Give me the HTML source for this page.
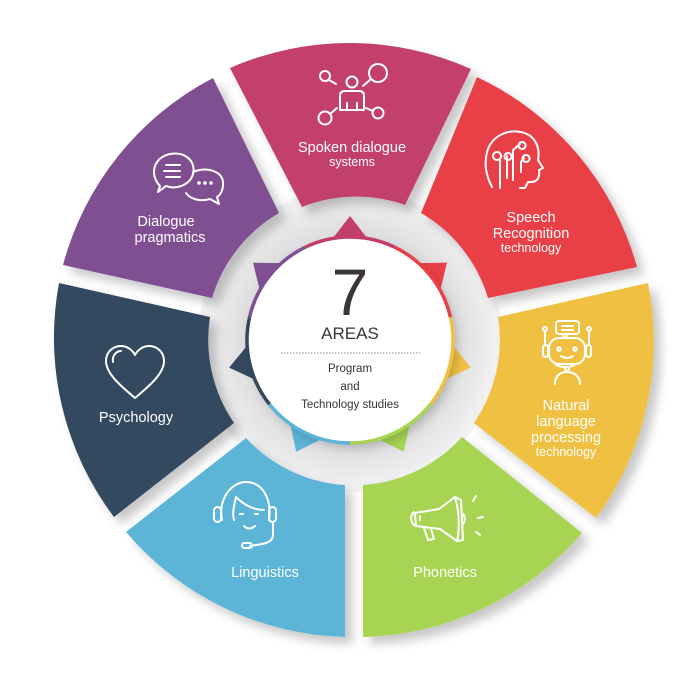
<!DOCTYPE html>
<html><head><meta charset="utf-8"><style>
html,body{margin:0;padding:0;background:#fff;}
svg{display:block;}
text{font-family:"Liberation Sans",sans-serif;}
</style></head><body>
<svg id="s" width="700" height="700" viewBox="0 0 700 700" xmlns="http://www.w3.org/2000/svg">
<defs>
<filter id="sh" x="-20%" y="-20%" width="150%" height="150%"><feDropShadow dx="7" dy="7" stdDeviation="5" flood-color="#000" flood-opacity="0.22"/></filter>
<filter id="sh2" x="-20%" y="-20%" width="150%" height="150%"><feDropShadow dx="4" dy="5" stdDeviation="5" flood-color="#000" flood-opacity="0.2"/></filter>
<radialGradient id="rg" cx="350" cy="340" r="150" gradientUnits="userSpaceOnUse"><stop offset="0.6" stop-color="#d6d6d8"/><stop offset="1" stop-color="#f2f2f3"/></radialGradient>
</defs>
<circle cx="350" cy="340" r="152" fill="url(#rg)"/>
<g filter="url(#sh)">
<path d="M230,68 A298,298 0 0 1 471,69 L405,205 A147,147 0 0 0 302,207 Z" fill="#c33f6b"/>
<path d="M477,77 A298,298 0 0 1 637,267 L488,298 A147,147 0 0 0 421,213 Z" fill="#e94046"/>
<path d="M648,283 A298,298 0 0 1 596,518 L474,423 A147,147 0 0 0 498,317 Z" fill="#efc043"/>
<path d="M582,533 A298,298 0 0 1 363,637 L363,485 A147,147 0 0 0 462,437 Z" fill="#a7d553"/>
<path d="M345,637 A298,298 0 0 1 126,532 L246,438 A147,147 0 0 0 345,485 Z" fill="#5cb4d7"/>
<path d="M114,517 A298,298 0 0 1 59,283 L210,317 A147,147 0 0 0 234,423 Z" fill="#33485e"/>
<path d="M63,265 A298,298 0 0 1 213,78 L279,213 A147,147 0 0 0 212,298 Z" fill="#804f92"/>
</g>
<g id="tri"></g>
<circle cx="350" cy="340" r="103" fill="#fff" filter="url(#sh2)"/>
<g id="ring"></g>
<text x="350" y="315" text-anchor="middle" font-size="66" fill="#3b3535">7</text>
<text x="350" y="339" text-anchor="middle" font-size="17" fill="#3b3535">AREAS</text>
<line x1="281" y1="353" x2="420" y2="353" stroke="#888" stroke-width="1" stroke-dasharray="1.5,1.5"/>
<text x="350" y="372" text-anchor="middle" font-size="11.5" fill="#333">Program</text>
<text x="350" y="390" text-anchor="middle" font-size="11.5" fill="#333">and</text>
<text x="350" y="408" text-anchor="middle" font-size="11.5" fill="#333">Technology studies</text>

<g fill="#fff" text-anchor="middle">
<text x="352" y="152" font-size="14.5">Spoken dialogue</text>
<text x="352" y="166" font-size="12.5">systems</text>
<text x="531" y="222" font-size="14.5">Speech</text>
<text x="531" y="238" font-size="14.5">Recognition</text>
<text x="531" y="252" font-size="12.5">technology</text>
<text x="166" y="226" font-size="14.5">Dialogue</text>
<text x="170" y="242" font-size="14.5">pragmatics</text>
<text x="136" y="422" font-size="14.5">Psychology</text>
<text x="566" y="410" font-size="14.5">Natural</text>
<text x="566" y="426" font-size="14.5">language</text>
<text x="566" y="442" font-size="14.5">processing</text>
<text x="566" y="456" font-size="12.5">technology</text>
<text x="265" y="577" font-size="14.5">Linguistics</text>
<text x="445" y="577" font-size="14.5">Phonetics</text>
</g>

<g fill="none" stroke="#fff" stroke-width="2" stroke-linecap="round" stroke-linejoin="round">
<circle cx="325" cy="76" r="5"/><line x1="329" y1="80" x2="336" y2="84"/>
<circle cx="378" cy="73" r="9"/><line x1="371" y1="79" x2="363" y2="86"/>
<circle cx="352" cy="82" r="5.5"/>
<path d="M340,110 V96 Q340,91 345,91 H359 Q364,91 364,96 V110 Z M347,110 V103 M357,110 V103"/>
<circle cx="325" cy="118" r="6.5"/><line x1="330" y1="114" x2="337" y2="108"/>
<circle cx="378" cy="113" r="5.5"/><line x1="373" y1="111" x2="366" y2="108"/>
<path d="M492,187 C486,175 484,165 487,152 C492,134 512,127 527,134 C537,139 540,150 538,160 L543,168 L539,170 C540,177 538,183 528,182 L525,188 L520,188"/>
<path d="M500,188 V160 M497,160 a4,4 0 1 1 0.1,0 M507,178 V156 M508,153 a3.5,3.5 0 1 0 0.1,0 M513,180 V150 L520,144 M522,142 a3.5,3.5 0 1 0 0.1,0 M521,172 V162 L524,158 M526,155 a3.5,3.5 0 1 0 0.1,0"/>
<path d="M160,186 C150,176 152,158 170,154 C186,151 196,162 193,174 C190,185 176,190 166,186 L158,192 Z"/>
<line x1="166" y1="165" x2="180" y2="165"/><line x1="164" y1="171" x2="180" y2="171"/><line x1="166" y1="177" x2="180" y2="177"/>
<path d="M193,172 C208,166 224,172 223,184 C223,192 219,196 217,197 L219,204 L210,199 C200,202 190,199 186,193"/>
<circle cx="199" cy="183" r="0.8" fill="#fff"/><circle cx="205" cy="183" r="0.8" fill="#fff"/><circle cx="211" cy="183" r="0.8" fill="#fff"/>
<path d="M135,398 C122,387 106,374 106,361 C106,352 113,346 121,346 C128,346 133,351 135,355 C137,351 142,346 149,346 C157,346 164,352 164,361 C164,374 148,387 135,398 Z"/>
<path d="M113,362 C112,356 116,351 121,351"/>
<rect x="556" y="321" width="23" height="13" rx="3"/><path d="M562,334 L565,338 L568,334"/>
<line x1="562" y1="326" x2="573" y2="326"/><line x1="562" y1="330" x2="573" y2="330"/>
<rect x="549" y="338" width="36" height="26" rx="10"/>
<circle cx="559" cy="349" r="1.8"/><circle cx="575" cy="349" r="1.8"/><path d="M561,356 Q567,360 573,356"/>
<rect x="543" y="345" width="5" height="12" rx="2.5"/><rect x="586" y="345" width="5" height="12" rx="2.5"/>
<line x1="545" y1="344" x2="545" y2="331"/><circle cx="545" cy="329" r="2"/><line x1="589" y1="344" x2="589" y2="331"/><circle cx="589" cy="329" r="2"/>
<path d="M556,365 Q567,370 576,364"/><circle cx="567" cy="369" r="2"/>
<path d="M555,384 C555,376 560,372 567,372 C574,372 580,376 580,384"/>
<path d="M222,520 C218,498 232,482 246,482 C262,482 272,498 269,520"/>
<path d="M236,497 C234,506 232,513 234,520 M236,497 C244,505 254,510 264,510"/>
<rect x="214" y="507" width="7" height="15" rx="3.5"/><rect x="269" y="507" width="7" height="15" rx="3.5"/>
<line x1="240" y1="514" x2="243" y2="514"/><line x1="255" y1="514" x2="258" y2="514"/>
<path d="M244,526 Q249,531 255,526"/>
<path d="M273,522 V535 Q273,542 262,544 L250,546"/><rect x="242" y="543" width="10" height="5" rx="2.5"/>
<path d="M415,513 L439,509 L455,497 L461,500 L463,540 L457,541 L440,529 L416,526 Z"/>
<path d="M455,497 C459,510 460,528 457,541"/>
<path d="M414,512 C410,515 410,524 416,526"/>
<path d="M424,528 L428,540 L434,539 L431,529"/>
<line x1="420" y1="516" x2="420" y2="520"/>
<path d="M463,514 a4,6 0 0 1 0,10"/>
<line x1="473" y1="501" x2="476" y2="496"/><line x1="478" y1="518" x2="483" y2="517"/><line x1="476" y1="532" x2="480" y2="535"/>
</g>
<script>
(function(){
var cols=["#c33f6b","#e94046","#efc043","#a7d553","#5cb4d7","#33485e","#804f92"];
var cx=350,cy=340,ns="http://www.w3.org/2000/svg";
var tri=document.getElementById("tri"),ring=document.getElementById("ring");
function P(r,a){a=a*Math.PI/180;return [cx+r*Math.cos(a),cy+r*Math.sin(a)];}
for(var k=0;k<7;k++){
 var a=-90+k*360/7;
 var t=P(124,a),b1=P(98,a-13),b2=P(98,a+13);
 var p=document.createElementNS(ns,"path");
 p.setAttribute("d","M"+t+" L"+b1+" L"+b2+" Z");p.setAttribute("fill",cols[k]);tri.appendChild(p);
 var s=P(103,a-360/14),e=P(103,a+360/14);
 var q=document.createElementNS(ns,"path");
 q.setAttribute("d","M"+s+" A103,103 0 0 1 "+e);q.setAttribute("fill","none");q.setAttribute("stroke",cols[k]);q.setAttribute("stroke-width","3.5");ring.appendChild(q);
}
})();
</script>
</svg>
</body></html>
